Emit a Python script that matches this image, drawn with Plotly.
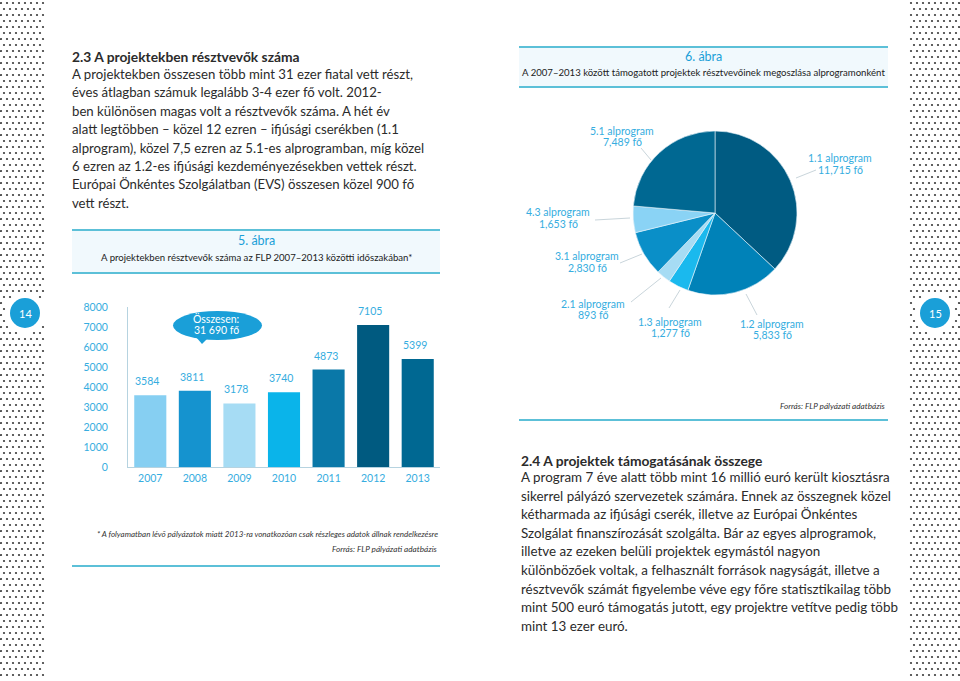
import plotly.graph_objects as go
import numpy as np

W, H = 960, 681

# ---------------- data ----------------
years = ["2007", "2008", "2009", "2010", "2011", "2012", "2013"]
participants = [3584, 3811, 3178, 3740, 4873, 7105, 5399]
bar_colors = ["#86cff2", "#1593cf", "#a6dcf4", "#0ab4ea", "#0a78a8", "#005a80", "#006892"]
y_ticks = [0, 1000, 2000, 3000, 4000, 5000, 6000, 7000, 8000]

sub_programs = ["1.1 alprogram", "1.2 alprogram", "1.3 alprogram", "2.1 alprogram",
                "3.1 alprogram", "4.3 alprogram", "5.1 alprogram"]
sub_values = [11715, 5833, 1277, 893, 2830, 1653, 7489]
sub_value_labels = ["11,715 fő", "5,833 fő", "1,277 fő", "893 fő", "2,830 fő", "1,653 fő", "7,489 fő"]
pie_colors = ["#005b82", "#0082b8", "#1ab9ee", "#a6dcf4", "#0a8fc8", "#8ad3f5", "#006892"]

left_title = "2.3 A projektekben résztvevők száma"
left_lines = [
    "A projektekben összesen több mint 31 ezer fiatal vett részt,",
    "éves átlagban számuk legalább 3-4 ezer fő volt. 2012-",
    "ben különösen magas volt a résztvevők száma. A hét év",
    "alatt legtöbben – közel 12 ezren – ifjúsági cserékben (1.1",
    "alprogram), közel 7,5 ezren az 5.1-es alprogramban, míg közel",
    "6 ezren az 1.2-es ifjúsági kezdeményezésekben vettek részt.",
    "Európai Önkéntes Szolgálatban (EVS) összesen közel 900 fő",
    "vett részt.",
]
right_title = "2.4 A projektek támogatásának összege"
right_lines = [
    "A program 7 éve alatt több mint 16 millió euró került kiosztásra",
    "sikerrel pályázó szervezetek számára. Ennek az összegnek közel",
    "kétharmada az ifjúsági cserék, illetve az Európai Önkéntes",
    "Szolgálat finanszírozását szolgálta. Bár az egyes alprogramok,",
    "illetve az ezeken belüli projektek egymástól nagyon",
    "különbözőek voltak, a felhasznált források nagyságát, illetve a",
    "résztvevők számát figyelembe véve egy főre statisztikailag több",
    "mint 500 euró támogatás jutott, egy projektre vetítve pedig több",
    "mint 13 ezer euró.",
]

# ---------------- helpers ----------------
def px(x):
    return x / W

def py(y):
    return 1 - y / H

FONT = "Lato"
TXT = "#2b2b2b"
BLUE_TXT = "#36ade0"
ACCENT = "#1a9fd8"
RULE = "#5cc0d8"

fig = go.Figure()

# decorative halftone dots (background)
dx, dy = [], []
for r, yy in enumerate(np.arange(3, H, 6.0)):
    off = 0 if r % 2 == 0 else 3
    for xx in np.arange(1 + off, 46, 6.0):
        if (xx - 25) ** 2 + (yy - 313) ** 2 > 21 ** 2:
            dx.append(xx); dy.append(yy)
    for xx in np.arange(W - 1 - off, W - 50, -6.0):
        if (xx - 935) ** 2 + (yy - 313) ** 2 > 21 ** 2:
            dx.append(xx); dy.append(yy)
fig.add_trace(go.Scatter(x=dx, y=dy, mode="markers", xaxis="x3", yaxis="y3",
                         marker=dict(size=2.2, color="#3a3a3a"), hoverinfo="skip",
                         showlegend=False, cliponaxis=False))

# bar chart
fig.add_trace(go.Bar(x=years, y=participants, marker=dict(color=bar_colors, line=dict(width=0)),
                     showlegend=False, hoverinfo="skip"))

# pie chart
fig.add_trace(go.Pie(labels=sub_programs, values=sub_values, sort=False, direction="clockwise",
                     rotation=0, textinfo="none", automargin=False,
                     marker=dict(colors=pie_colors, line=dict(width=0.6, color="#e8f4fa")),
                     domain=dict(x=[px(633), px(797)], y=[py(295), py(131)]),
                     showlegend=False, hoverinfo="skip"))

annotations = []
shapes = []

def text(x, y, s, size=13.2, color=TXT, anchor="left", bold=False, italic=False):
    if bold:
        s = "<b>" + s + "</b>"
    if italic:
        s = "<i>" + s + "</i>"
    annotations.append(dict(x=px(x), y=py(y), xref="paper", yref="paper", text=s, showarrow=False,
                            xanchor=anchor, yanchor="middle", font=dict(family=FONT, size=size, color=color)))

# left text block
text(70, 57, left_title, size=13.8, bold=True)
for i, ln in enumerate(left_lines):
    text(70, 74 + i * 18.4, ln)

# right text block
text(519, 460, right_title, size=13.8, bold=True)
for i, ln in enumerate(right_lines):
    text(519, 477 + i * 18.6, ln, size=13.4)

# figure header boxes
def header_box(x0, x1, y0, y1, title_y, sub_y, title, sub):
    shapes.append(dict(type="rect", xref="paper", yref="paper", x0=px(x0), x1=px(x1), y0=py(y1), y1=py(y0),
                       fillcolor="#f1f9fd", line=dict(width=0), layer="below"))
    for yy in (y0, y1):
        shapes.append(dict(type="line", xref="paper", yref="paper", x0=px(x0), x1=px(x1), y0=py(yy), y1=py(yy),
                           line=dict(color=RULE, width=2)))
    text((x0 + x1) / 2, title_y, title, size=12.5, color=ACCENT, anchor="center")
    text((x0 + x1) / 2, sub_y, sub, size=9.6, color="#222222", anchor="center")

header_box(72, 440, 230, 273, 241, 257, "5. ábra",
           "A projektekben résztvevők száma az FLP 2007–2013 közötti időszakában*")
header_box(519, 888, 47, 87, 57, 73, "6. ábra",
           "A 2007–2013 között támogatott projektek résztvevőinek megoszlása alprogramonként")

# footnotes / sources
text(440, 534, "* A folyamatban lévő pályázatok miatt 2013-ra vonatkozóan csak részleges adatok állnak rendelkezésre",
     size=8.0, color="#333333", anchor="right", italic=True)
text(440, 549, "Forrás: FLP pályázati adatbázis", size=8.2, color="#333333", anchor="right", italic=True)
shapes.append(dict(type="line", xref="paper", yref="paper", x0=px(72), x1=px(440), y0=py(566), y1=py(566),
                   line=dict(color=RULE, width=2)))
text(888, 406, "Forrás: FLP pályázati adatbázis", size=8.2, color="#333333", anchor="right", italic=True)
shapes.append(dict(type="line", xref="paper", yref="paper", x0=px(519), x1=px(888), y0=py(420), y1=py(420),
                   line=dict(color=RULE, width=2)))

# bar value labels (category index on the bar x-axis)
for i, v in enumerate(participants):
    annotations.append(dict(x=i, y=v, xref="x", yref="y", text=str(v), showarrow=False, yshift=14, xshift=-3,
                            font=dict(family=FONT, size=10.5, color=BLUE_TXT)))

# total bubble
shapes.append(dict(type="circle", xref="paper", yref="paper", x0=px(173), x1=px(262), y0=py(340), y1=py(311),
                   fillcolor=ACCENT, line=dict(width=0)))
shapes.append(dict(type="path", xref="paper", yref="paper",
                   path=f"M {px(196)},{py(337)} L {px(202)},{py(344)} L {px(209)},{py(337)} Z",
                   fillcolor=ACCENT, line=dict(width=0)))
text(216, 318, "Összesen:", size=10.5, color="white", anchor="center")
text(216, 330, "31 690 fő", size=10.5, color="white", anchor="center")

# pie labels + leader lines
pie_label_pos = {
    "1.1 alprogram": (840, 158, (796, 178), (816, 170)),
    "1.2 alprogram": (772, 324, (746, 294), (757, 315)),
    "1.3 alprogram": (670, 322, (680, 290), (669, 308)),
    "2.1 alprogram": (593, 304, (661, 278), (631, 302)),
    "3.1 alprogram": (587, 256, (642, 254), (620, 263)),
    "4.3 alprogram": (558, 212, (630, 218), (595, 220)),
    "5.1 alprogram": (622, 131, (651, 160), (641, 148)),
}
for name, val in zip(sub_programs, sub_value_labels):
    lx, ly, p0, p1 = pie_label_pos[name]
    text(lx, ly, name, size=10.5, color=BLUE_TXT, anchor="center")
    text(lx, ly + 11.5, val, size=10.5, color=BLUE_TXT, anchor="center")
    shapes.append(dict(type="line", xref="paper", yref="paper", x0=px(p0[0]), y0=py(p0[1]),
                       x1=px(p1[0]), y1=py(p1[1]), line=dict(color="#c9d5db", width=1)))

# page number circles
for cx, lab in ((25, "14"), (935, "15")):
    shapes.append(dict(type="circle", xref="paper", yref="paper", x0=px(cx - 15), x1=px(cx + 15),
                       y0=py(313 + 15), y1=py(313 - 15), fillcolor=ACCENT, line=dict(width=0)))
    text(cx, 313, lab, size=11, color="white", anchor="center")

fig.update_layout(
    width=W, height=H, margin=dict(l=0, r=0, t=0, b=0, pad=0, autoexpand=False),
    paper_bgcolor="white", plot_bgcolor="rgba(0,0,0,0)",
    bargap=0.28,
    xaxis=dict(type="category", domain=[px(128), px(440)], anchor="y", showgrid=False, showline=True,
               linecolor="#b6d3e0", linewidth=1, tickfont=dict(family=FONT, size=10.5, color=BLUE_TXT),
               ticks="", ticklabelstandoff=1, fixedrange=True, automargin=False, range=[-0.5, 6.5]),
    yaxis=dict(domain=[py(467), py(307)], range=[0, 8000], anchor="x", showgrid=False, showline=True,
               linecolor="#b6d3e0", linewidth=1, tickvals=y_ticks, ticks="", zeroline=False,
               tickfont=dict(family=FONT, size=10.5, color=BLUE_TXT), ticklabelstandoff=17,
               fixedrange=True, automargin=False),
    xaxis3=dict(domain=[0, 1], range=[0, W], visible=False, anchor="y3", fixedrange=True, automargin=False),
    yaxis3=dict(domain=[0, 1], range=[H, 0], visible=False, anchor="x3", fixedrange=True, automargin=False),
    annotations=annotations, shapes=shapes,
)

fig.write_html("out.html", config={"displayModeBar": False},
               post_script="document.body.style.margin='0px';document.body.style.overflow='hidden';")
